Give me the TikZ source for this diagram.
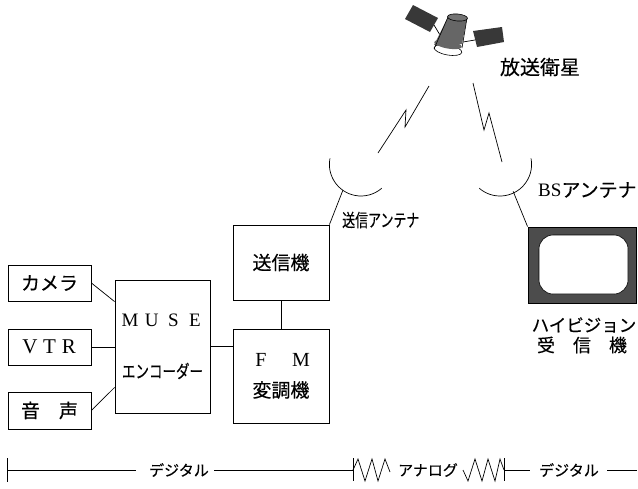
\documentclass[tikz,border=0pt]{standalone}
\usepackage{fontspec}
\setmainfont{Liberation Serif}
\newfontfamily\jp[FakeBold=0.3]{Noto Sans CJK JP}
\usetikzlibrary{calc}
\newcommand\cell[2]{\makebox[#1]{#2}}
\begin{document}
\begin{tikzpicture}[x=1pt,y=-1pt,
  box/.style={draw, line width=0.9pt, inner sep=0pt},
  wire/.style={line width=0.7pt},
  jpl/.style={font=\jp\fontsize{19}{19}\selectfont, inner sep=0pt},
  lat/.style={font=\fontsize{20}{20}\selectfont, inner sep=0pt},
  small/.style={font=\jp\fontsize{15}{15}\selectfont, inner sep=0pt}]
\useasboundingbox (0,0) rectangle (638,488);

% ---- studio side: sources, encoder, modulator, transmitter
\node[box, jpl, minimum width=83pt, minimum height=36pt] (cam) at (49.5,283) {カメラ};
\node[box, lat, font=\fontsize{21}{21}\selectfont, minimum width=83pt, minimum height=36pt] (vtr) at (49.5,347) {\cell{19.5pt}{V}\cell{19.5pt}{T}\cell{19.5pt}{R}};
\node[box, jpl, minimum width=83pt, minimum height=37pt] (voice) at (49.5,410.5) {\cell{19pt}{音}\hspace{19pt}\cell{19pt}{声}};
\node[box, minimum width=95pt, minimum height=133pt] (muse) at (162.5,346.5) {};
\node[lat, font=\fontsize{19}{19}\selectfont] (musetxt) at (162.5,320) {\cell{21.7pt}{M}\cell{21.7pt}{U}\cell{21.7pt}{S}\cell{21.7pt}{E}};
\node[jpl, font=\jp\fontsize{18}{18}\selectfont] (enctxt) at (162.5,371) {\scalebox{0.75}[1]{エンコーダー}};
\node[box, jpl, minimum width=96pt, minimum height=75pt] (tx) at (281,262.5) {送信機};
\node[box, minimum width=96pt, minimum height=94pt] (fm) at (281,376) {};
\node[lat] (fmtxt) at (281,360) {\cell{20pt}{F}\hspace{20pt}\cell{20pt}{M}};
\node[jpl] (modtxt) at (281,390) {変調機};

\draw[wire] (cam.east) -- ([yshift=-22pt]muse.north west);
\draw[wire] (vtr.east) -- (vtr.east -| muse.west);
\draw[wire] (voice.east) -- ([yshift=26pt]muse.south west);
\draw[wire] (muse.east) -- (muse.east -| fm.west);
\draw[wire] (tx.south) -- (tx.south |- fm.north);

% ---- dishes
\coordinate (dishL) at (361,164.4);
\coordinate (dishR) at (500,164.4);
\draw[wire] ($(dishL)+(191:31.6)$) arc[start angle=191, end angle=49, radius=31.6];
\draw[wire] ($(dishR)+(131:31.6)$) arc[start angle=131, end angle=-11, radius=31.6];
\coordinate (txfeed) at ($(dishL)+(125:31.6)$);
\coordinate (rxfeed) at ($(dishR)+(64:30)$);
\draw[wire] (txfeed) -- (tx.north east);
\node[jpl, font=\jp\fontsize{18}{18}\selectfont, anchor=west] (txant) at (342,220) {\scalebox{0.72}[1]{送信アンテナ}};

% ---- receiver
\node[draw, line width=0.9pt, fill=black!70, minimum width=108pt, minimum height=76pt, inner sep=0pt] (tv) at (582,265) {};
\node[draw, line width=0.6pt, fill=white, rounded corners=14pt, minimum width=89pt, minimum height=59pt, inner sep=0pt] (screen) at (583.5,264.5) {};
\draw[wire] (rxfeed) -- (tv.north west);
\node[inner sep=0pt, anchor=west] (rxant) at (538,190) {\fontsize{19}{19}\selectfont BS\jp\fontsize{19}{19}\selectfont アンテナ};
\node[jpl, font=\jp\fontsize{17.5}{17.5}\selectfont] (hv) at (584,325) {ハイビジョン};
\node[jpl, font=\jp\fontsize{18}{18}\selectfont] (rcv) at (582,345) {\cell{18pt}{受}\hspace{18pt}\cell{18pt}{信}\hspace{18pt}\cell{18pt}{機}};

% ---- radio links
\draw[wire] (378,153) -- (406,110) -- (405,127) -- (429,86);
\draw[wire] (473,83) -- (484,130) -- (489,113) -- (502,162);

% ---- satellite
\node[jpl, font=\jp\fontsize{20}{20}\selectfont] (sat) at (540,67) {放送衛星};
\fill[black!78] (413,5) -- (438,18) -- (430,32) -- (405,19) -- cycle;
\fill[black!78] (473,31) -- (502,27) -- (504,42) -- (477,47) -- cycle;
\draw[wire] (434,25) -- (440,35);
\draw[wire] (463,42) -- (475,40);
\filldraw[fill=white, line width=0.6pt] (448,50) ellipse[x radius=14, y radius=5, rotate=-10];
\fill[black!60] (448,17) -- (434,45) -- (462,44) -- (467,18) -- cycle;
\fill[black!60] (448,44.5) ellipse[x radius=14, y radius=4, rotate=-10];
\draw[line width=0.6pt] (448,17) -- (434,49);
\draw[line width=0.6pt] (467,18) -- (462,48);
\filldraw[fill=black!55, line width=0.6pt] (457.5,17.5) ellipse[x radius=10, y radius=3.5, rotate=-5];

% ---- signal-type scale along the bottom
\coordinate (b0) at (7,470);
\coordinate (b1) at (136,470);
\coordinate (b2) at (214,470);
\coordinate (b3) at (353,470);
\coordinate (b4) at (463,470);
\coordinate (b5) at (504,470);
\coordinate (b6) at (530,470);
\coordinate (b7) at (607,470);
\coordinate (b8) at (637,470);
\node[small] (dig1) at (179,470) {デジタル};
\node[small] (ana) at (428,470) {アナログ};
\node[small] (dig2) at (569,470) {デジタル};
\draw[wire] (b0) ++(0,-12) -- ++(0,24);
\draw[wire] (b3) ++(0,-12) -- ++(0,23);
\draw[wire] (b5) ++(0,-12) -- ++(0,23);
\draw[wire] (b0) -- (b1);
\draw[wire] (b2) -- (b3);
\draw[wire] (b3) -- ++(5,-11) -- ++(7,22) -- ++(7,-22) -- ++(6,22) -- ++(7,-22) -- ++(5,13);
\draw[wire] (b4) -- ++(5,11) -- ++(7,-22) -- ++(7,22) -- ++(6,-22) -- ++(7,22) -- ++(5,-22) -- (b5);
\draw[wire] (b5) -- (b6);
\draw[wire] (b7) -- (b8);
\end{tikzpicture}
\end{document}
